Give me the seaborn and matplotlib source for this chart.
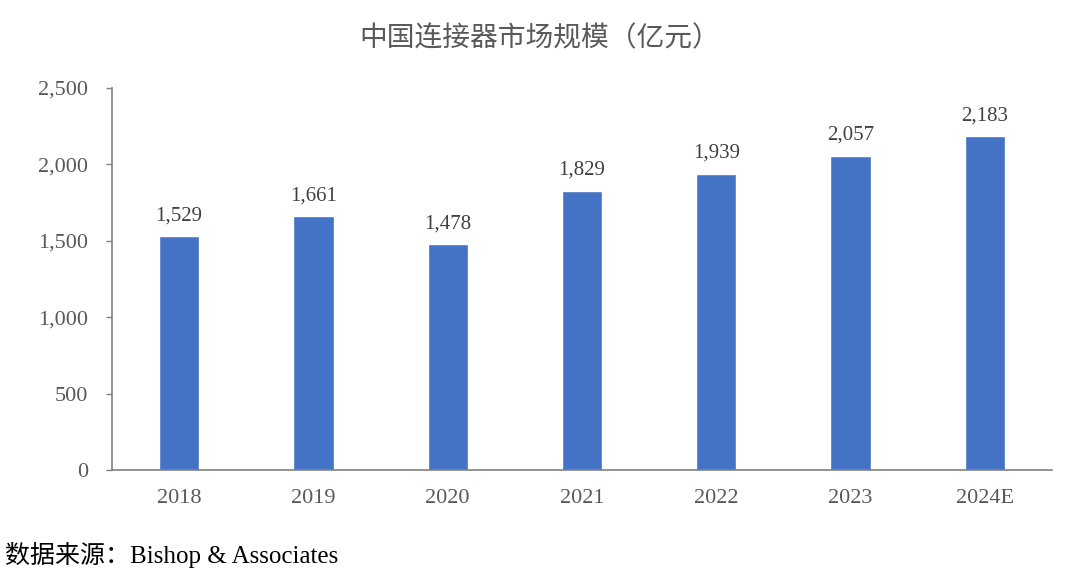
import matplotlib
matplotlib.use('Agg')
import matplotlib.pyplot as plt
import seaborn as sns
import pandas as pd

# 数据
years = ['2018', '2019', '2020', '2021', '2022', '2023', '2024E']
market_size = [1529, 1661, 1478, 1829, 1939, 2057, 2183]
y_ticks = [0, 500, 1000, 1500, 2000, 2500]

df = pd.DataFrame({'year': years, 'size': market_size})

sns.set_theme(style='white')
plt.rcParams['font.family'] = ['Liberation Serif', 'Noto Sans CJK SC', 'DejaVu Sans']

fig = plt.figure(figsize=(10.8, 5.79), dpi=100)
ax = fig.add_axes([112 / 1080, 1 - 470 / 579, 940 / 1080, 382 / 579])

sns.barplot(data=df, x='year', y='size', color='#4472C4', saturation=1,
            width=0.3, ax=ax)

for i, v in enumerate(market_size):
    ax.text(i, v + 70, f'{v:,}', ha='center', va='bottom', fontsize=15, color='#404040')

ax.set_xlim(-0.5, len(years) - 0.5)
ax.set_ylim(0, 2500)
ax.set_yticks(y_ticks)
ax.set_yticklabels([f'{t:,}' for t in y_ticks])
ax.set_xlabel('')
ax.set_ylabel('')
ax.tick_params(axis='y', left=True, length=4, width=1, color='#808080',
               labelsize=16, labelcolor='#595959', pad=13)
ax.tick_params(axis='x', bottom=False, labelsize=16, labelcolor='#595959', pad=8)

for s in ['top', 'right']:
    ax.spines[s].set_visible(False)
for s in ['left', 'bottom']:
    ax.spines[s].set_color('#808080')
    ax.spines[s].set_linewidth(1.2)

fig.text(0.5, 1 - 38 / 579, '中国连接器市场规模（亿元）', ha='center', va='center',
         fontsize=20, color='#595959', family=['Noto Sans CJK SC', 'DejaVu Sans'])
fig.text(5 / 1080, 1 - 555 / 579, '数据来源：Bishop & Associates', ha='left', va='center',
         fontsize=18, color='#000000')

fig.savefig('out.png', dpi=100)
